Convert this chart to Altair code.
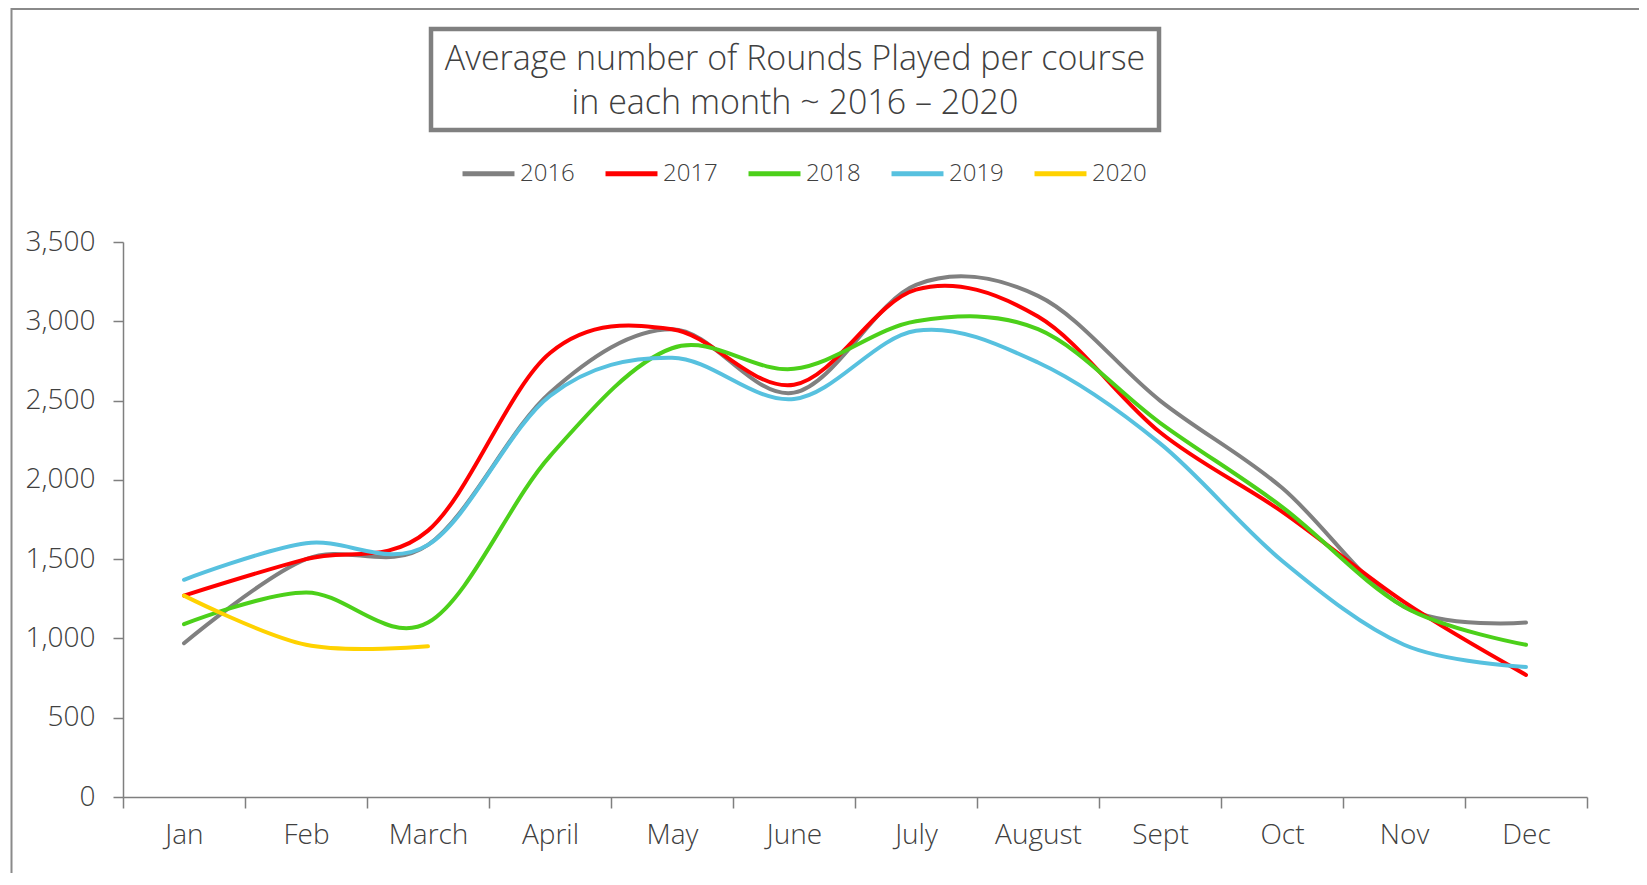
import altair as alt
import pandas as pd

months = ["Jan", "Feb", "March", "April", "May", "June", "July", "August", "Sept", "Oct", "Nov", "Dec"]
years = ["2016", "2017", "2018", "2019", "2020"]
colors = ["#808080", "#FF0000", "#4CD01A", "#57C1DF", "#FFD200"]

v2016 = [970, 1500, 1590, 2550, 2950, 2550, 3230, 3160, 2500, 1950, 1200, 1100]
v2017 = [1270, 1500, 1680, 2800, 2950, 2600, 3200, 3030, 2300, 1800, 1230, 770]
v2018 = [1090, 1290, 1100, 2150, 2830, 2700, 3000, 2950, 2360, 1830, 1200, 960]
v2019 = [1370, 1600, 1590, 2530, 2770, 2510, 2940, 2740, 2230, 1490, 960, 820]
v2020 = [1270, 960, 950]

title1 = "Average number of Rounds Played per course"
title2 = "in each month ~ 2016 \u2013 2020"

series = {"2016": v2016, "2017": v2017, "2018": v2018, "2019": v2019, "2020": v2020}
rows = []
for y in years:
    for i, v in enumerate(series[y]):
        rows.append({"month": months[i], "year": y, "value": v})
df = pd.DataFrame(rows)

FONT = "Open Sans"
W, H = 1464, 555

lines = alt.Chart(df).mark_line(
    interpolate="cardinal", tension=0, strokeWidth=4, strokeCap="round"
).encode(
    x=alt.X("month:O", sort=months, bandPosition=0.5,
            scale=alt.Scale(type="band", paddingInner=0, paddingOuter=0),
            axis=alt.Axis(title=None, labelAngle=0, tickBand="extent", tickSize=11,
                          labelPadding=13, labelFontSize=28, labelColor="#404040",
                          labelFont=FONT, labelFontWeight=300,
                          domainColor="#7f7f7f", tickColor="#7f7f7f", domainWidth=1.5, tickWidth=1.5)),
    y=alt.Y("value:Q", scale=alt.Scale(domain=[0, 3500], nice=False),
            axis=alt.Axis(title=None, values=[0, 500, 1000, 1500, 2000, 2500, 3000, 3500],
                          format=",.0f", grid=False, tickSize=10, labelPadding=18,
                          labelFontSize=28, labelColor="#404040", labelFont=FONT, labelFontWeight=300,
                          domainColor="#7f7f7f", tickColor="#7f7f7f", domainWidth=1.5, tickWidth=1.5)),
    color=alt.Color("year:N", scale=alt.Scale(domain=years, range=colors),
                    legend=alt.Legend(title=None, orient="none", direction="horizontal",
                                      legendX=337, legendY=-97, symbolType="stroke",
                                      symbolSize=2700, symbolStrokeWidth=5, labelOffset=3,
                                      labelFontSize=24, labelFont=FONT, labelFontWeight=300,
                                      labelColor="#404040", columnPadding=20)),
    detail="year:N",
)

one = pd.DataFrame({"k": [0]})
frame = alt.Chart(one).mark_rect(fill=None, stroke="#8a8a8a", strokeWidth=2).encode(
    x=alt.value(-111.5), x2=alt.value(1600), y=alt.value(-233), y2=alt.value(700)
)
titlebox = alt.Chart(one).mark_rect(fill="white", stroke="#808080", strokeWidth=4.5).encode(
    x=alt.value(308), x2=alt.value(1036), y=alt.value(-213), y2=alt.value(-112)
)
t1 = alt.Chart(pd.DataFrame({"t": [title1]})).mark_text(
    font=FONT, fontWeight=300, fontSize=34, color="#404040", align="center", baseline="middle"
).encode(x=alt.value(672), y=alt.value(-182), text="t:N")
t2 = alt.Chart(pd.DataFrame({"t": [title2]})).mark_text(
    font=FONT, fontWeight=300, fontSize=34, color="#404040", align="center", baseline="middle"
).encode(x=alt.value(672), y=alt.value(-138), text="t:N")

chart = alt.layer(frame, titlebox, t1, t2, lines).properties(
    width=W, height=H,
    autosize=alt.AutoSizeParams(type="none"),
    padding={"left": 115, "top": 234, "right": 52, "bottom": 76},
).configure_view(stroke=None)

chart.save("out.html", embed_options={"renderer": "svg", "actions": False})
